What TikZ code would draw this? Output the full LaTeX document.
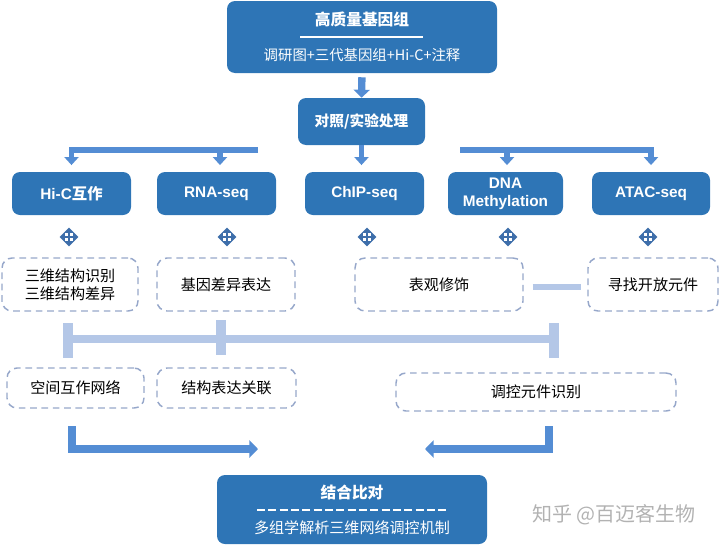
\documentclass[tikz,border=0pt]{standalone}
\usepackage{fontspec}
\setmainfont{Liberation Sans}
\newfontfamily\cjk{Noto Sans CJK SC}
\usepackage{tikz}
\usetikzlibrary{
	arrows.meta,
	positioning,
	shapes.geometric
}
\definecolor{BoxBlue}{RGB}{46,117,182}
\definecolor{ArrowBlue}{RGB}{84,141,212}
\definecolor{BarBlue}{RGB}{180,199,231}
\definecolor{DashGray}{RGB}{150,167,202}
\definecolor{IconBlue}{RGB}{62,110,170}
\newcommand{\px}{0.75pt}

\begin{document}
\begin{tikzpicture}[x=0.75pt, y=-0.75pt,
		solidbox/.style={fill=BoxBlue, rounded corners=6pt, text=white, align=center, inner sep=0pt,
			font=\bfseries\fontsize{11.5}{13.5}\selectfont},
		dashbox/.style={draw=DashGray, line width=1.1pt, dash pattern=on 5pt off 3.5pt, rounded corners=7.5pt,
			align=center, inner sep=0pt, font=\cjk\fontsize{11.3}{13.5}\selectfont},
		blockarrow/.style={draw=ArrowBlue, line width=3.8pt, -{Triangle[length=6pt,width=10.5pt]}},
		bentarrow/.style={draw=ArrowBlue, line width=6pt, -{Triangle[length=6.5pt,width=13pt]}},
		lightbar/.style={draw=BarBlue},
		icon/.style={diamond, fill=IconBlue, minimum size=19*\px, inner sep=0pt}
	]
		\useasboundingbox (0,0) rectangle (720,546);
		
		% 顶部
		\node[solidbox, minimum width=270*\px, minimum height=72*\px] (genome) at (362,37) {};
		\node[text=white, font=\cjk\bfseries\fontsize{11.8}{14}\selectfont] (genometitle) at (362,19) {高质量基因组};
		\draw[white, line width=1pt] (300,37) -- (423,37);
		\node[text=white, font=\cjk\fontsize{10.8}{13}\selectfont] (genomesub) at (362,55) {调研图+三代基因组+Hi-C+注释};
		
		\node[solidbox, minimum width=127*\px, minimum height=47*\px, font=\cjk\bfseries\fontsize{11}{13}\selectfont] (treat) at (361.5,121.5) {对照/实验处理};
		\draw[blockarrow, line width=5.5pt, -{Triangle[length=6pt,width=12pt]}, shorten <=3pt] (genome.south) -- (treat.north);
		
		% 测序数据
		\node[solidbox, minimum width=119*\px, minimum height=43*\px] (hic) at (71.5,193.5) {Hi-C{\cjk 互作}};
		\node[solidbox, minimum width=119*\px, minimum height=43*\px] (rna) at (216.5,193.5) {RNA-seq};
		\node[solidbox, minimum width=119*\px, minimum height=43*\px] (chip) at (364.5,193.5) {ChIP-seq};
		\node[solidbox, minimum width=115*\px, minimum height=43*\px] (dna) at (505.5,193.5) {DNA\\Methylation};
		\node[solidbox, minimum width=118*\px, minimum height=43*\px] (atac) at (651,193.5) {ATAC-seq};
		
		\coordinate (lbar) at (258,150);
		\coordinate (rbar) at (460,150);
		\draw[blockarrow, shorten >=5pt] (lbar) -| (hic.north);
		\draw[blockarrow, shorten >=5pt] (220,150) -- (220,150 |- rna.north);
		\draw[blockarrow, shorten >=5pt] (rbar) -| (atac.north);
		\draw[blockarrow, shorten >=5pt] (507,150) -- (507,150 |- dna.north);
		\draw[blockarrow, shorten >=5pt] (treat.south) -- (treat.south |- chip.north);
		
		% 小图标
		\foreach \x [count=\i] in {69,227,367,508,648} {
			\node[icon] (icon\i) at (\x,237) {};
			\fill[white] (\x-4,233) rectangle (\x-0.7,236.3);
			\fill[white] (\x+0.7,233) rectangle (\x+4,236.3);
			\fill[white] (\x-4,237.7) rectangle (\x-0.7,241);
			\fill[white] (\x+0.7,237.7) rectangle (\x+4,241);
		}
		
		% 分析结果
		\node[dashbox, minimum width=136*\px, minimum height=53*\px] (hicres) at (70,284.5) {三维结构识别\\三维结构差异};
		\node[dashbox, minimum width=138*\px, minimum height=53*\px] (rnares) at (226,284.5) {基因差异表达};
		\node[dashbox, minimum width=168*\px, minimum height=53*\px] (chipres) at (439,284.5) {表观修饰};
		\node[dashbox, minimum width=130*\px, minimum height=53*\px] (atacres) at (653,284.5) {寻找开放元件};
		\draw[lightbar, line width=4.5pt] ([xshift=9*\px, yshift=-2*\px]chipres.east) -- ([xshift=-6*\px, yshift=-2*\px]atacres.west);
		
		% 联合
		\draw[lightbar, line width=6pt] (68,339) -- (554,339);
		\draw[lightbar, line width=7.5pt] (68,323) -- (68,358);
		\draw[lightbar, line width=7.5pt] (221,320) -- (221,355);
		\draw[lightbar, line width=7.5pt] (554,323) -- (554,358);
		
		\node[dashbox, minimum width=137*\px, minimum height=40*\px] (net) at (75.5,388) {空间互作网络};
		\node[dashbox, minimum width=139*\px, minimum height=40*\px] (link) at (226.5,388) {结构表达关联};
		\node[dashbox, minimum width=280*\px, minimum height=38*\px] (elem) at (536,392) {调控元件识别};
		
		% 底部
		\node[solidbox, minimum width=270*\px, minimum height=69*\px] (combine) at (352,509.5) {};
		\node[text=white, font=\cjk\bfseries\fontsize{11.8}{14}\selectfont] (combinetitle) at (352,492) {结合比对};
		\draw[white, line width=1pt, dash pattern=on 6pt off 2.5pt] (257,510) -- (447,510);
		\node[text=white, font=\cjk\fontsize{11.3}{13}\selectfont] (combinesub) at (352,528) {多组学解析三维网络调控机制};
		
		\coordinate (la) at (72,426);
		\coordinate (lb) at (258,449);
		\coordinate (ra) at (549,426);
		\coordinate (rb) at (425,449);
		\draw[bentarrow] (la) |- (lb);
		\draw[bentarrow] (ra) |- (rb);
		
		\node[text=black!30, font=\cjk\fontsize{15}{17}\selectfont] (zhihu) at (614,515) {知乎 @百迈客生物};
	\end{tikzpicture}
\end{document}
